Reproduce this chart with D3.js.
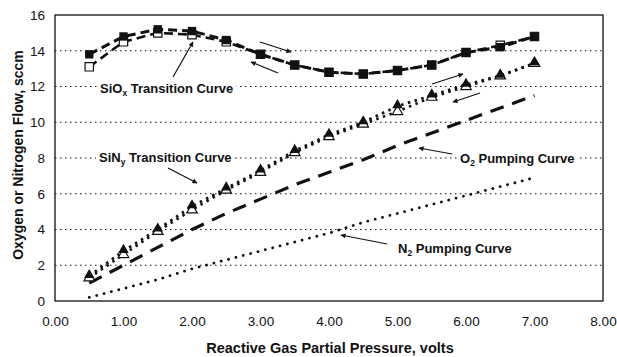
<!DOCTYPE html>
<html><head><meta charset="utf-8">
<script src="https://cdn.jsdelivr.net/npm/d3@7"></script>
<style>body{margin:0;background:#fff}svg{display:block}text{font-family:"Liberation Sans",Arial,sans-serif;fill:#111}</style>
</head><body><svg id="c" width="617" height="357"></svg>
<script>
const pressure = [0.5,1.0,1.5,2.0,2.5,3.0,3.5,4.0,4.5,5.0,5.5,6.0,6.5,7.0];
const siOxUp   = [13.8,14.8,15.2,15.1,14.6,13.8,13.2,12.8,12.7,12.9,13.2,13.9,14.2,14.8];
const siOxDown = [13.1,14.5,15.0,14.9,14.5,13.8,13.2,12.8,12.7,12.9,13.2,13.9,14.3,14.8];
const siNyUp   = [1.4,2.8,4.0,5.3,6.3,7.3,8.4,9.3,10.0,10.9,11.5,12.1,12.6,13.3];
const siNyDown = [1.3,2.6,3.9,5.1,6.2,7.2,8.3,9.2,9.9,10.6,11.4,12.0,12.6,13.3];
const o2Pump   = [1.0,2.0,3.0,4.0,4.9,5.7,6.5,7.2,7.9,8.7,9.4,10.1,10.8,11.5];
const n2Pump   = [0.2,0.7,1.2,1.8,2.3,2.8,3.3,3.8,4.4,4.9,5.4,5.9,6.4,6.9];
const xTicks = [0,1,2,3,4,5,6,7,8];
const yTicks = [0,2,4,6,8,10,12,14,16];
const gridVals = [2,4,6,8,10,12,14];

const svg = d3.select("#c");
const x = d3.scaleLinear().domain([0,8]).range([55,603]);
const y = d3.scaleLinear().domain([0,16]).range([301,15]);
const ink = "#111";

// gridlines
svg.append("g").selectAll("line").data(gridVals).join("line")
  .attr("x1",x(0)).attr("x2",x(8)).attr("y1",d=>y(d)).attr("y2",d=>y(d))
  .attr("stroke",ink).attr("stroke-width",1.2).attr("stroke-dasharray","1.5,3.5");

// frame
svg.append("rect").attr("x",x(0)).attr("y",y(16)).attr("width",x(8)-x(0)).attr("height",y(0)-y(16))
  .attr("fill","none").attr("stroke",ink).attr("stroke-width",1.3);

// axes tick labels
const xa = d3.axisBottom(x).tickValues(xTicks).tickFormat(d3.format(".2f")).tickSize(0).tickPadding(15);
const gx = svg.append("g").attr("transform",`translate(0,${y(0)})`).call(xa);
gx.select(".domain").remove();
gx.selectAll("text").style("font-size","13.5px").style("font-family","Liberation Sans, Arial, sans-serif").attr("fill",ink);
const ya = d3.axisLeft(y).tickValues(yTicks).tickFormat(d3.format("d")).tickSize(0).tickPadding(10);
const gy = svg.append("g").attr("transform",`translate(${x(0)},0)`).call(ya);
gy.select(".domain").remove();
gy.selectAll("text").style("font-size","13.5px").style("font-family","Liberation Sans, Arial, sans-serif").attr("fill",ink);

// axis titles
svg.append("text").attr("x",330).attr("y",353).attr("text-anchor","middle")
  .style("font-size","14.5px").style("font-weight","bold").text("Reactive Gas Partial Pressure, volts");
svg.append("text").attr("transform","translate(23,155) rotate(-90)").attr("text-anchor","middle")
  .style("font-size","14px").style("font-weight","bold").text("Oxygen or Nitrogen Flow, sccm");

const line = d3.line().x(d=>x(d[0])).y(d=>y(d[1]));
const zip = vals => pressure.map((p,i)=>[p,vals[i]]);

function drawLine(vals, w, dash, cap){
  svg.append("path").datum(zip(vals)).attr("d",line).attr("fill","none")
    .attr("stroke",ink).attr("stroke-width",w).attr("stroke-dasharray",dash).attr("stroke-linecap",cap||"butt");
}
drawLine(n2Pump, 2.8, "0.1,7.5", "round");
drawLine(o2Pump, 3.2, "14,9");
drawLine(siOxDown, 2.6, "9,5");
drawLine(siOxUp, 3, "9,5");
drawLine(siNyDown, 2.6, "2.5,4.5");
drawLine(siNyUp, 2.8, "2.5,4.5");

// markers
const sq = d3.symbol().type(d3.symbolSquare).size(70);
const tri = d3.symbol().type(d3.symbolTriangle).size(48);
svg.append("g").selectAll("path").data(zip(siOxDown)).join("path").attr("d",sq)
  .attr("transform",d=>`translate(${x(d[0])},${y(d[1])})`).attr("fill","#fff").attr("stroke",ink).attr("stroke-width",1.2);
svg.append("g").selectAll("path").data(zip(siOxUp)).join("path").attr("d",sq)
  .attr("transform",d=>`translate(${x(d[0])},${y(d[1])})`).attr("fill",ink);
svg.append("g").selectAll("path").data(zip(siNyDown)).join("path").attr("d",tri)
  .attr("transform",d=>`translate(${x(d[0])},${y(d[1])})`).attr("fill","#fff").attr("stroke",ink).attr("stroke-width",1.2);
svg.append("g").selectAll("path").data(zip(siNyUp)).join("path").attr("d",tri)
  .attr("transform",d=>`translate(${x(d[0])},${y(d[1])-1})`).attr("fill",ink);

// arrow marker
const defs = svg.append("defs");
defs.append("marker").attr("id","ah").attr("viewBox","0 0 10 10").attr("refX",9).attr("refY",5)
  .attr("markerWidth",6).attr("markerHeight",5).attr("orient","auto").attr("markerUnits","userSpaceOnUse")
  .append("path").attr("d","M0,0 L10,5 L0,10 Z").attr("fill",ink);
function arrow(x1,y1,x2,y2){
  svg.append("line").attr("x1",x1).attr("y1",y1).attr("x2",x2).attr("y2",y2)
    .attr("stroke",ink).attr("stroke-width",1.2).attr("marker-end","url(#ah)");
}

// labels with white background
function label(xs, yc, parts){
  const g = svg.append("g");
  const r = g.append("rect").attr("fill","#fff");
  const t = g.append("text").attr("x",xs).attr("y",yc+4.5).style("font-size","13px").style("font-weight","bold");
  parts.forEach(p=>{
    const ts = t.append("tspan").text(p.t);
    if(p.sub){ ts.style("font-size","8.5px").attr("dy",3); }
    else if(p.after){ ts.attr("dy",-3); }
  });
  const bb = t.node().getBBox();
  r.attr("x",bb.x-3).attr("y",bb.y).attr("width",bb.width+6).attr("height",bb.height);
}
label(100, 88, [{t:"SiO"},{t:"x",sub:true},{t:" Transition Curve",after:true}]);
label(99, 157, [{t:"SiN"},{t:"y",sub:true},{t:" Transition Curve",after:true}]);
label(460, 158, [{t:"O"},{t:"2",sub:true},{t:" Pumping Curve",after:true}]);
label(398, 248, [{t:"N"},{t:"2",sub:true},{t:" Pumping Curve",after:true}]);

arrow(173,77,193,42);
arrow(168,168,197,183);
arrow(452,154,419,148);
arrow(387,244,341,235);
arrow(260,42,291,52);
arrow(278,73,251,62);
arrow(432,84,463,74);
arrow(480,93,453,102);
</script></body></html>
